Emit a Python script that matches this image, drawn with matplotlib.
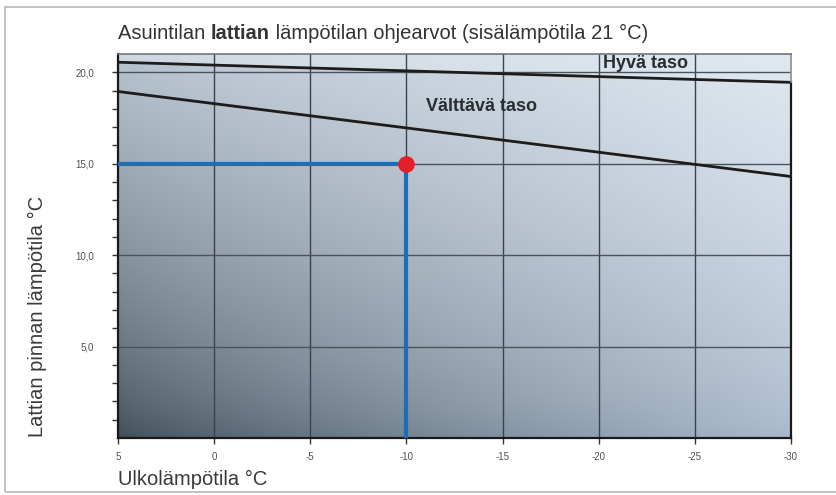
import numpy as np
import matplotlib
matplotlib.use("Agg")
import matplotlib.pyplot as plt
from matplotlib.patches import Rectangle

plt.rcParams['font.family'] = ['Liberation Sans', 'DejaVu Sans']

# ---- data ----
outdoor_range = [5, -30]                 # x extent of the limit lines (°C)
good_level = [20.55, 19.45]              # "Hyvä taso" boundary line
poor_level = [18.95, 14.3]               # "Välttävä taso" boundary line
example_outdoor = -10
example_floor = 15.0
x_ticks = [5, 0, -5, -10, -15, -20, -25, -30]
x_tick_labels = ["5", "0", "-5", "-10", "-15", "-20", "-25", "-30"]
y_ticks = [5, 10, 15, 20]
y_tick_labels = ["5,0", "10,0", "15,0", "20,0"]
title_parts = [("Asuintilan ", "normal"), ("lattian", "bold"),
               (" lämpötilan ohjearvot (sisälämpötila 21 °C)", "normal")]

W, H = 836, 495
fig = plt.figure(figsize=(W / 100, H / 100), dpi=100)
fig.patch.set_facecolor("white")

# figure frame
fig.add_artist(Rectangle((5 / W, 1 - 492 / H), (W - 4) / W, (492 - 7) / H,
                         transform=fig.transFigure, fill=False,
                         edgecolor="#b8b8b8", lw=1.2))

ax = fig.add_axes([118 / W, 1 - 438 / H, (791 - 118) / W, (438 - 54) / H])
ax.set_xlim(5, -30)
ax.set_ylim(0, 21)

# background gradient (bilinear between corner colours)
c_bl = np.array([62, 76, 86]) / 255
c_br = np.array([168, 184, 204]) / 255
c_tl = np.array([182, 194, 206]) / 255
c_tr = np.array([224, 232, 240]) / 255
ny, nx = 200, 300
u = np.linspace(0, 1, nx)[None, :, None]
v = np.linspace(0, 1, ny)[:, None, None]
v2 = v ** 0.7
u2 = u ** 0.8
img = (c_bl * (1 - u2) * (1 - v2) + c_br * u2 * (1 - v2)
       + c_tl * (1 - u2) * v2 + c_tr * u2 * v2)
ax.imshow(img, origin="lower", extent=[5, -30, 0, 21], aspect="auto",
          interpolation="bilinear", zorder=0)

# light band for "Hyvä taso"
ax.fill_between(outdoor_range, good_level, 21, color="#dfe7ef", alpha=0.6,
                zorder=0.5, lw=0)

# grid
for xv in x_ticks[1:-1]:
    ax.axvline(xv, color="#3a434c", lw=1.0, zorder=1)
for yv in y_ticks:
    ax.axhline(yv, color="#4a525a", lw=1.0, zorder=1)

# limit lines
ax.plot(outdoor_range, good_level, color="#1c1c1c", lw=2.0, zorder=3)
ax.plot(outdoor_range, poor_level, color="#1c1c1c", lw=2.0, zorder=3)

# example reading
ax.plot([5, example_outdoor], [example_floor, example_floor],
        color="#1f6db3", lw=3, zorder=4, solid_capstyle="butt")
ax.plot([example_outdoor, example_outdoor], [0, example_floor],
        color="#1f6db3", lw=3, zorder=4, solid_capstyle="butt")
ax.plot([example_outdoor], [example_floor], "o", color="#e51f2a",
        markersize=12, zorder=5, markeredgewidth=0)

# labels inside
ax.text(-13.9, 18.15, "Välttävä taso", fontsize=13, fontweight="bold",
        color="#2a2d30", ha="center", va="center", zorder=6)
ax.text(-22.45, 20.5, "Hyvä taso", fontsize=13, fontweight="bold",
        color="#2a2d30", ha="center", va="center", zorder=6)

# spines
for s in ["top", "right"]:
    ax.spines[s].set_visible(False)
for s in ["left", "bottom"]:
    ax.spines[s].set_color("#1a1a1a")
    ax.spines[s].set_linewidth(1.6)
ax.plot([-30, -30], [0, good_level[1]], color="#1a1a1a", lw=1.6,
        zorder=6, clip_on=False)
ax.plot([-30, -30], [good_level[1], 21], color="#8a9098", lw=1.2,
        zorder=6, clip_on=False)
ax.plot([5, -30], [21, 21], color="#70767c", lw=1.2, zorder=6,
        clip_on=False)

# ticks
ax.set_xticks(x_ticks)
ax.set_xticklabels(x_tick_labels)
ax.set_yticks(y_ticks)
ax.set_yticklabels(y_tick_labels)
ax.set_yticks(np.arange(1, 21, 1), minor=True)
ax.tick_params(axis="both", which="major", labelsize=7,
               labelcolor="#505050", color="#333333", length=4, width=1)
ax.tick_params(axis="y", which="minor", length=4, width=1, color="#333333")
ax.tick_params(axis="x", pad=6)
ax.tick_params(axis="y", pad=13)

# axis labels
fig.text(118 / W, 1 - 485 / H, "Ulkolämpötila °C", fontsize=14.5,
         color="#3a3a3a", ha="left", va="baseline")
fig.text(37 / W, 1 - 437 / H, "Lattian pinnan lämpötila °C", fontsize=14.5,
         color="#3a3a3a", rotation=90, ha="center", va="bottom")

# title with bold word
renderer = fig.canvas.get_renderer()
xpos = 118
for txt, weight in title_parts:
    t = fig.text(xpos / W, 1 - 39 / H, txt, fontsize=14.5, fontweight=weight,
                 color="#333333", ha="left", va="baseline")
    bb = t.get_window_extent(renderer=renderer)
    xpos += bb.width

fig.savefig("out.png", dpi=100, facecolor="white")
